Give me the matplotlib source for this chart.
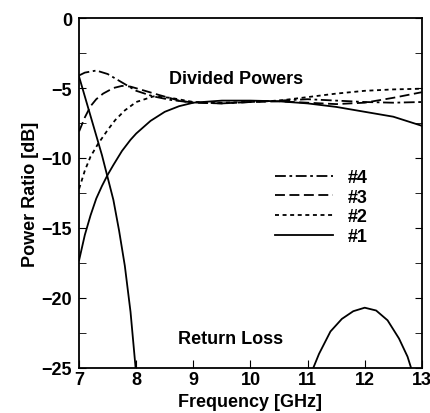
import numpy as np
import matplotlib.pyplot as plt
from matplotlib.ticker import MultipleLocator

plt.rcParams['font.family'] = ['Liberation Sans', 'DejaVu Sans']
plt.rcParams['font.weight'] = 'bold'
plt.rcParams['axes.labelweight'] = 'bold'

# through power, port #1..#4 (frequency in GHz, ratio in dB)
f1 = [7.0, 7.1, 7.2, 7.3, 7.4, 7.5, 7.6, 7.75, 7.9, 8.0, 8.25, 8.5, 8.75, 9.0, 9.5, 10.0, 10.5, 11.0, 11.5, 12.0, 12.5, 13.0]
p1 = [-17.3, -15.5, -14.1, -12.9, -12.0, -11.2, -10.5, -9.5, -8.7, -8.25, -7.35, -6.7, -6.3, -6.05, -5.9, -5.9, -5.95, -6.1, -6.35, -6.7, -7.05, -7.7]

f2 = [7.0, 7.1, 7.2, 7.33, 7.5, 7.63, 7.8, 8.0, 8.3, 8.6, 9.0, 9.5, 10.0, 10.5, 11.0, 11.5, 12.0, 12.5, 13.0]
p2 = [-12.2, -10.9, -9.9, -9.0, -8.0, -7.3, -6.6, -6.0, -5.6, -5.7, -6.0, -6.05, -6.0, -5.9, -5.65, -5.4, -5.2, -5.1, -5.05]

f3 = [7.0, 7.1, 7.2, 7.3, 7.42, 7.6, 7.75, 7.9, 8.07, 8.4, 8.75, 9.0, 9.5, 10.0, 10.5, 11.0, 11.5, 12.0, 12.5, 13.0]
p3 = [-8.1, -7.1, -6.3, -5.8, -5.4, -5.0, -4.85, -4.9, -5.1, -5.5, -5.9, -6.05, -6.1, -6.0, -5.95, -6.05, -6.15, -6.05, -5.7, -5.3]

f4 = [7.0, 7.1, 7.3, 7.5, 7.75, 8.0, 8.3, 8.6, 8.9, 9.5, 10.0, 10.5, 11.0, 11.5, 12.0, 12.5, 13.0]
p4 = [-4.1, -3.9, -3.75, -4.0, -4.6, -5.2, -5.6, -5.85, -6.0, -6.1, -6.0, -5.9, -5.8, -5.9, -6.0, -6.05, -6.0]

# return loss (two visible branches)
fr_a = [7.0, 7.1, 7.2, 7.3, 7.4, 7.5, 7.6, 7.7, 7.8, 7.9, 8.0]
rl_a = [-4.2, -5.6, -7.0, -8.4, -9.8, -11.4, -13.0, -15.2, -17.7, -21.0, -25.5]
fr_b = [11.05, 11.2, 11.4, 11.6, 11.8, 12.0, 12.2, 12.4, 12.6, 12.75, 12.85]
rl_b = [-25.5, -24.0, -22.4, -21.5, -20.95, -20.7, -20.9, -21.6, -22.9, -24.2, -25.5]

fig = plt.figure(figsize=(4.3, 4.14), dpi=100)
ax = fig.add_axes([0.184, 0.109, 0.797, 0.845])

lw = 1.3
l1, = ax.plot(f1, p1, color='black', lw=lw, label='#1')
l2, = ax.plot(f2, p2, color='black', lw=lw, dashes=(2.2, 2), label='#2')
l3, = ax.plot(f3, p3, color='black', lw=lw, dashes=(5.5, 2.5), label='#3')
l4, = ax.plot(f4, p4, color='black', lw=lw, dashes=(6, 2, 1.5, 2), label='#4')
ax.plot(fr_a, rl_a, color='black', lw=lw)
ax.plot(fr_b, rl_b, color='black', lw=lw)

ax.set_xlim(7, 13)
ax.set_ylim(-25, 0)
ax.xaxis.set_major_locator(MultipleLocator(1))
ax.yaxis.set_major_locator(MultipleLocator(5))
ax.yaxis.set_minor_locator(MultipleLocator(2.5))
ax.tick_params(axis='both', which='both', direction='in', labelsize=13)
ax.tick_params(axis='y', which='both', right=True, length=5, pad=5)
ax.tick_params(axis='x', length=6, pad=2)
for s in ax.spines.values():
    s.set_linewidth(1.3)

ax.set_xlabel('Frequency [GHz]', fontsize=13, labelpad=4)
ax.set_ylabel('Power Ratio [dB]', fontsize=13, labelpad=2)

ax.text(9.75, -4.3, 'Divided Powers', fontsize=13, ha='center', va='center')
ax.text(9.65, -22.9, 'Return Loss', fontsize=13, ha='center', va='center')

ax.legend(handles=[l4, l3, l2, l1], loc='upper left', bbox_to_anchor=(0.525, 0.615),
          frameon=False, handlelength=3.2, labelspacing=0.15, handletextpad=0.8,
          prop={'size': 13, 'weight': 'bold'})

fig.savefig('out.png', dpi=100)
